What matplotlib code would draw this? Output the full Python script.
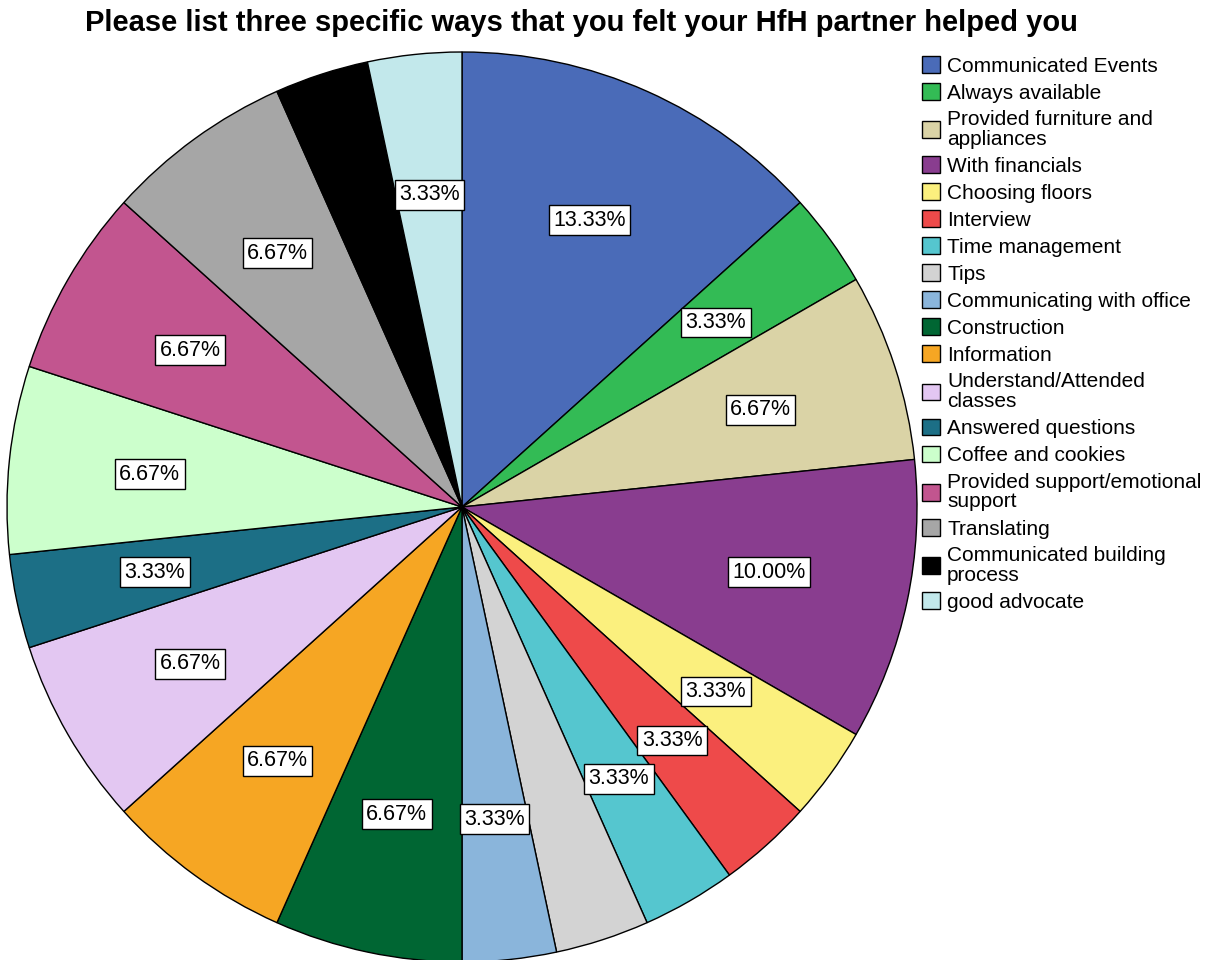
import matplotlib
matplotlib.use("Agg")
import matplotlib.pyplot as plt

plt.rcParams['font.family'] = ['Liberation Sans', 'DejaVu Sans']

title = "Please list three specific ways that you felt your HfH partner helped you"

categories = [
  "Communicated Events",
  "Always available",
  "Provided furniture and\nappliances",
  "With financials",
  "Choosing floors",
  "Interview",
  "Time management",
  "Tips",
  "Communicating with office",
  "Construction",
  "Information",
  "Understand/Attended\nclasses",
  "Answered questions",
  "Coffee and cookies",
  "Provided support/emotional\nsupport",
  "Translating",
  "Communicated building\nprocess",
  "good advocate",
]

counts = [4, 1, 2, 3, 1, 1, 1, 1, 1, 2, 2, 2, 1, 2, 2, 2, 1, 1]

# slices whose percentage label is not shown in the original
hidden_labels = ["Tips", "Communicated building\nprocess"]

colors = [
  "#4A6BB8", "#33BB55", "#DAD3A6", "#893D8F", "#FBF07E", "#EE4A4A",
  "#55C6CF", "#D3D3D3", "#8AB5DB", "#006633", "#F6A623", "#E3C7F2",
  "#1C6F86", "#CCFFCC", "#C2558F", "#A6A6A6", "#000000", "#C2E8EB",
]


def main():
  fig = plt.figure(figsize=(12.11, 9.6), dpi=100)
  fig.text(581 / 1211, 1 - 23 / 960, title, ha="center", va="center",
           fontsize=21, fontweight="bold")

  total = float(sum(counts))
  labels = []
  for name, c in zip(categories, counts):
    if name in hidden_labels:
      labels.append("")
    else:
      labels.append("%.2f%%" % (100.0 * c / total))

  ax = fig.add_axes([7 / 1211, -2 / 960, 910 / 1211, 910 / 960])
  wedges, texts = ax.pie(
    counts, colors=colors, startangle=90, counterclock=False,
    radius=1.0, labels=labels, labeldistance=0.69,
    wedgeprops=dict(edgecolor="black", linewidth=1.0),
    textprops=dict(fontsize=15.5, ha="center", va="center"))
  for t in texts:
    if t.get_text():
      t.set_bbox(dict(boxstyle="square,pad=0.2", facecolor="white",
                      edgecolor="black", linewidth=1.0))
  ax.set_xlim(-1, 1)
  ax.set_ylim(-1, 1)
  ax.set_aspect("equal")
  ax.axis("off")

  leg = fig.legend(wedges, categories, loc="upper left",
                   bbox_to_anchor=(922 / 1211, 1 - 56 / 960),
                   frameon=False, fontsize=15, handlelength=0.85,
                   handleheight=0.85, handletextpad=0.35, labelspacing=0.36,
                   borderaxespad=0, borderpad=0)
  for t in leg.get_texts():
    t.set_linespacing(1.05)

  fig.savefig("out.png", dpi=100)


if __name__ == "__main__":
  main()
